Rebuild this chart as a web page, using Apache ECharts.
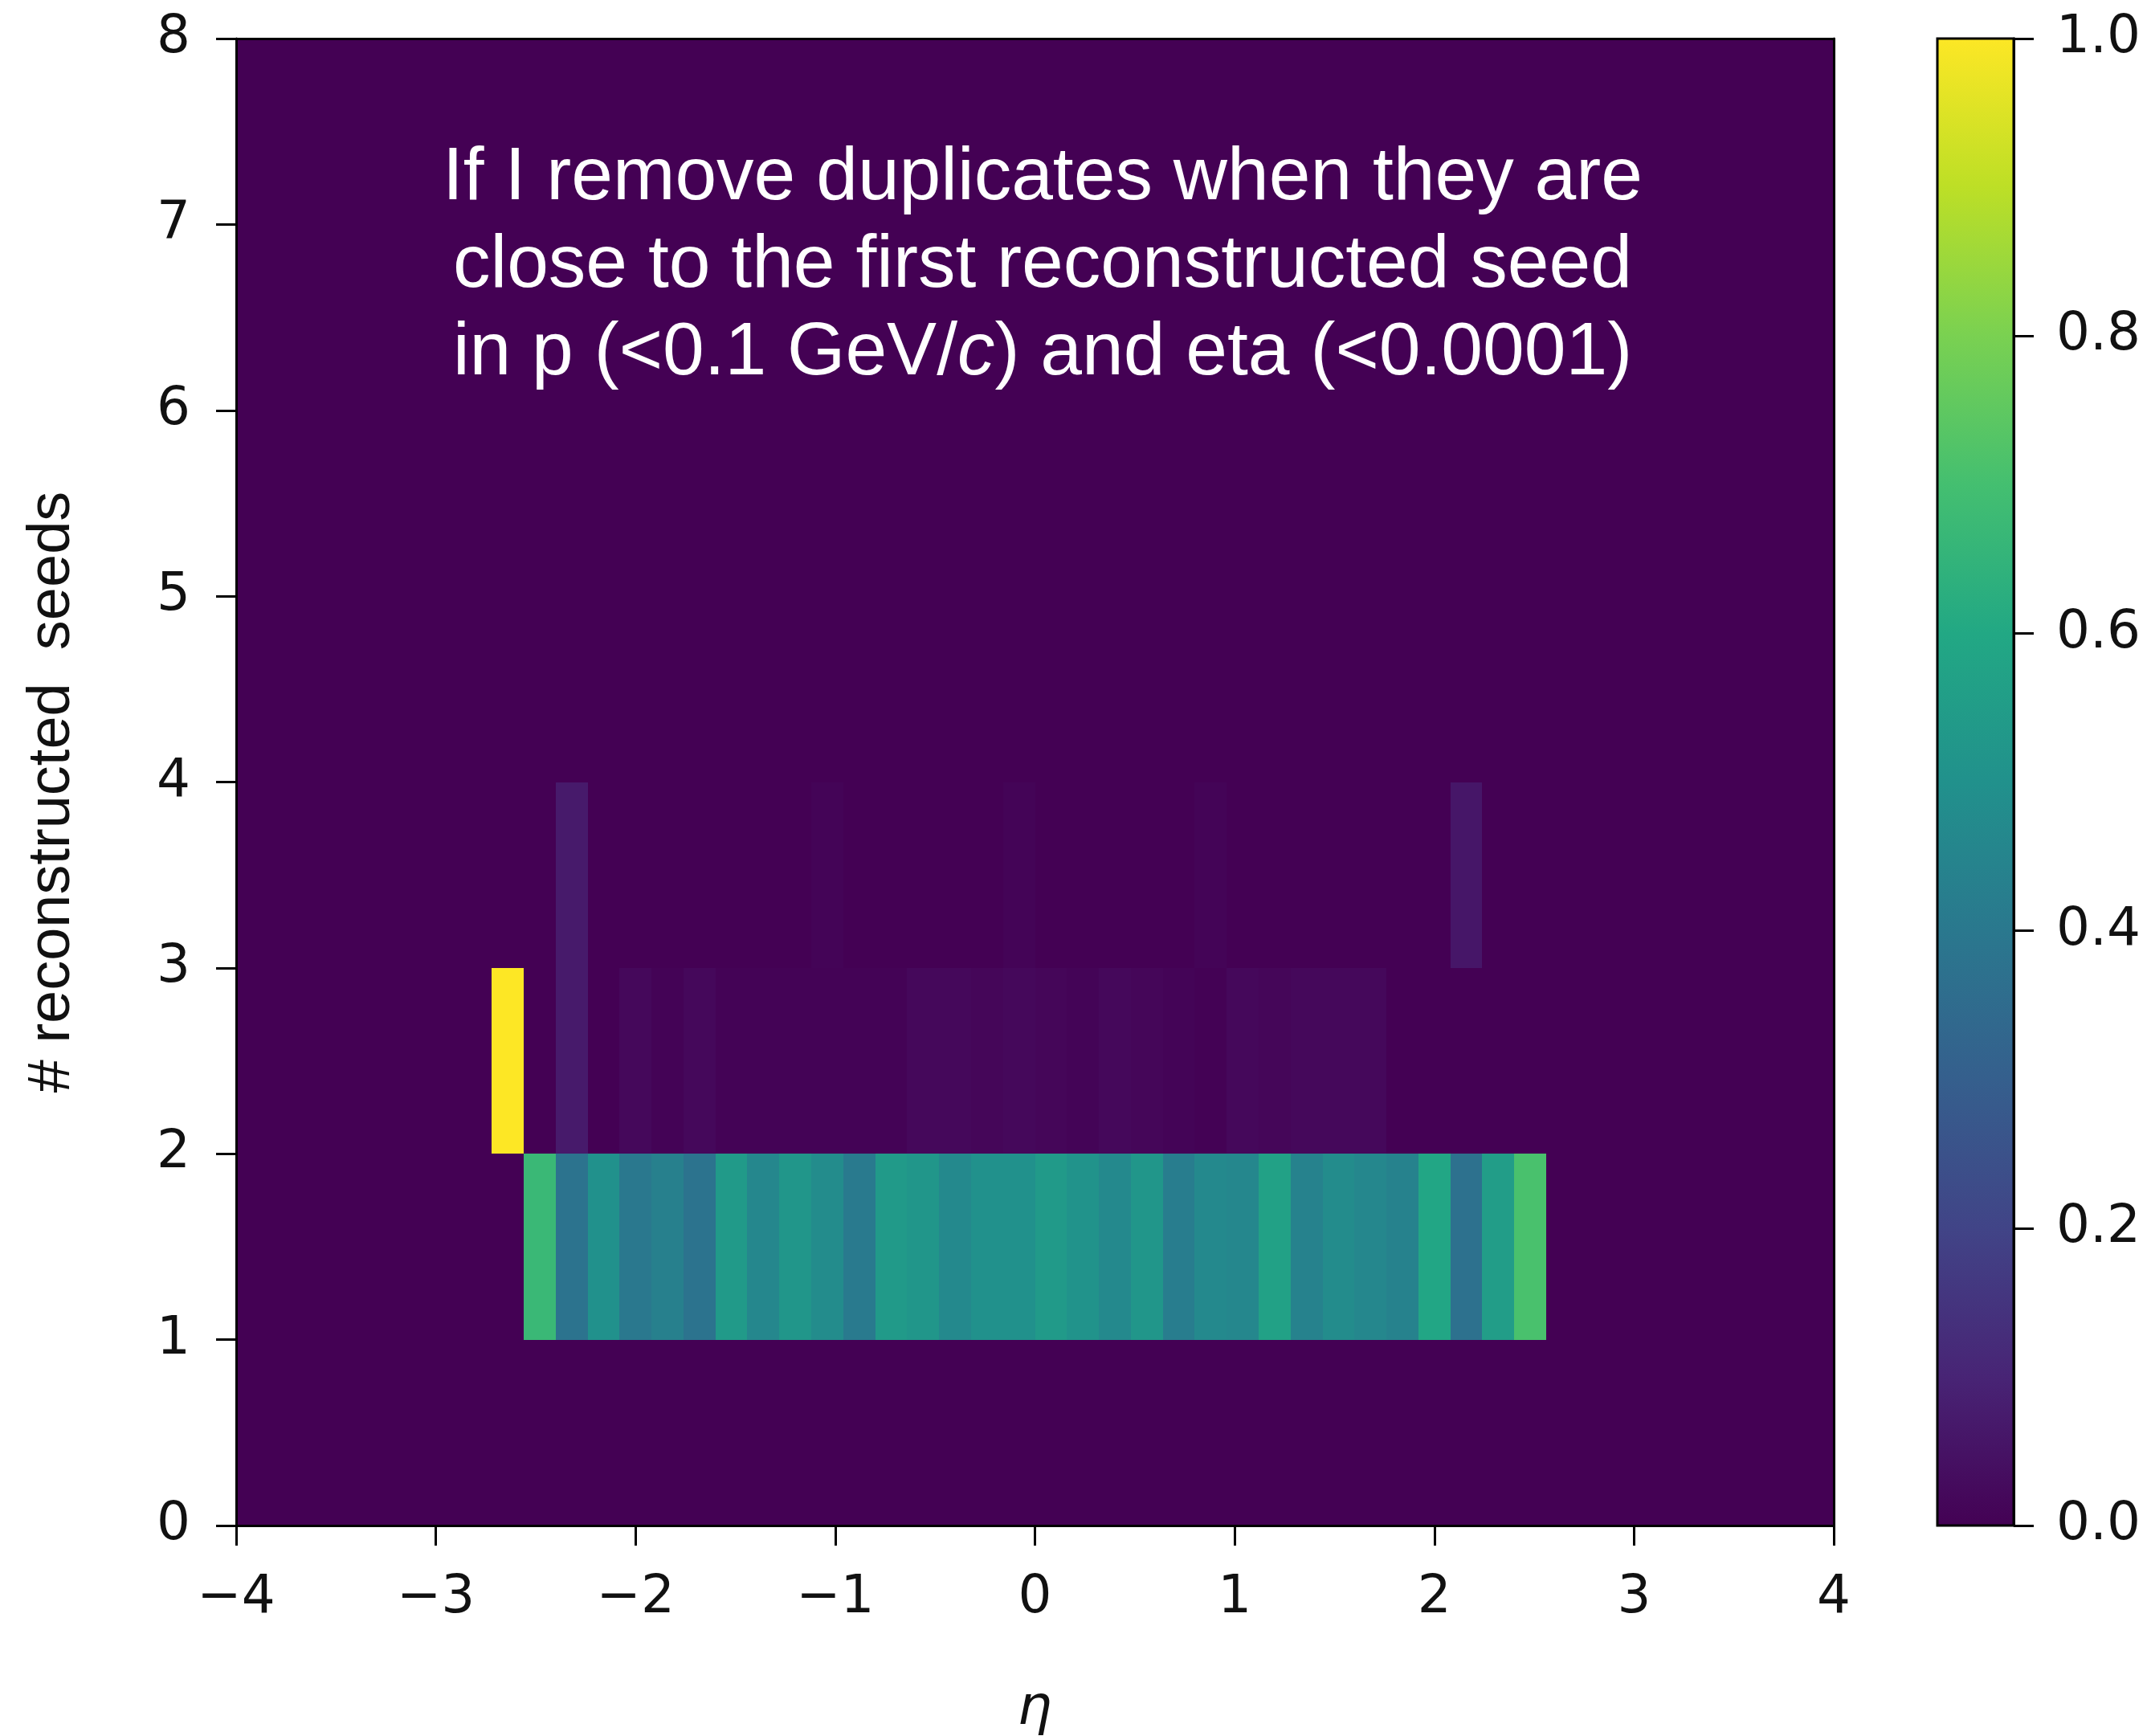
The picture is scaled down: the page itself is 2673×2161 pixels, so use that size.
<!DOCTYPE html>
<html>
<head>
<meta charset="utf-8">
<script src="https://cdn.jsdelivr.net/npm/echarts@6/dist/echarts.min.js"></script>
<style>
  html, body { margin: 0; padding: 0; background: #fff; }
  #chart { width: 2673px; height: 2161px; }
</style>
</head>
<body>
<div id="chart"></div>
<script>
// Binning of the 2D histogram: eta on x, number of reconstructed seeds on y
const etaMin = -4;
const etaMax = 4;
const etaBinCount = 50;
const seedsMin = 0;
const seedsMax = 8;

// Axis tick values
const etaTicks = [-4, -3, -2, -1, 0, 1, 2, 3, 4];
const seedTicks = [0, 1, 2, 3, 4, 5, 6, 7, 8];
const colorbarTicks = [0.0, 0.2, 0.4, 0.6, 0.8, 1.0];

// Normalised bin contents, one array per seed-count row (50 eta bins each)
const zeroRow = [
  0, 0, 0, 0, 0, 0, 0, 0, 0, 0,
  0, 0, 0, 0, 0, 0, 0, 0, 0, 0,
  0, 0, 0, 0, 0, 0, 0, 0, 0, 0,
  0, 0, 0, 0, 0, 0, 0, 0, 0, 0,
  0, 0, 0, 0, 0, 0, 0, 0, 0, 0
];
const seedsRow0 = zeroRow;
const seedsRow1 = [
  0, 0, 0, 0, 0, 0, 0, 0, 0, 0.67,
  0.38, 0.50, 0.40, 0.43, 0.38, 0.54, 0.46, 0.52, 0.48, 0.41,
  0.54, 0.52, 0.47, 0.50, 0.50, 0.54, 0.51, 0.47, 0.52, 0.42,
  0.47, 0.46, 0.57, 0.44, 0.48, 0.46, 0.44, 0.59, 0.37, 0.55,
  0.71, 0, 0, 0, 0, 0, 0, 0, 0, 0
];
const seedsRow2 = [
  0, 0, 0, 0, 0, 0, 0, 0, 1.0, 0,
  0.07, 0, 0.02, 0.006, 0.02, 0.006, 0.006, 0.006, 0.006, 0.006,
  0.006, 0.02, 0.02, 0.015, 0.02, 0.015, 0.008, 0.02, 0.015, 0.008,
  0.004, 0.02, 0.015, 0.02, 0.02, 0.02, 0, 0, 0, 0,
  0, 0, 0, 0, 0, 0, 0, 0, 0, 0
];
const seedsRow3 = [
  0, 0, 0, 0, 0, 0, 0, 0, 0, 0,
  0.07, 0, 0, 0, 0, 0, 0, 0, 0.008, 0,
  0, 0, 0, 0, 0.008, 0, 0, 0, 0, 0,
  0.008, 0, 0, 0, 0, 0, 0, 0, 0.06, 0,
  0, 0, 0, 0, 0, 0, 0, 0, 0, 0
];
const seedsRow4 = zeroRow;
const seedsRow5 = zeroRow;
const seedsRow6 = zeroRow;
const seedsRow7 = zeroRow;

// Viridis colour map
const viridis = ['#440154', '#482475', '#414487', '#355f8d', '#2a788e',
                 '#21918c', '#22a884', '#44bf70', '#7ad151', '#bddf26', '#fde725'];

const annotationLines = [
  '{n|If I remove duplicates when they are}',
  '{n|close to the first reconstructed seed}',
  '{n|in p (<0.1 GeV/}{i|c}{n|) and eta (<0.0001)}'
];

// Build histogram cells [xLow, xHigh, yLow, yHigh, value]
const seedRows = [seedsRow0, seedsRow1, seedsRow2, seedsRow3,
                  seedsRow4, seedsRow5, seedsRow6, seedsRow7];
const etaBinWidth = (etaMax - etaMin) / etaBinCount;
const cells = [];
seedRows.forEach(function (row, j) {
  row.forEach(function (v, k) {
    cells.push([etaMin + k * etaBinWidth, etaMin + (k + 1) * etaBinWidth,
                seedsMin + j, seedsMin + j + 1, v]);
  });
});

function renderCell(params, api) {
  const a = api.coord([api.value(0), api.value(3)]);
  const b = api.coord([api.value(1), api.value(2)]);
  const x0 = Math.round(a[0]), x1 = Math.round(b[0]);
  const y0 = Math.round(a[1]), y1 = Math.round(b[1]);
  return {
    type: 'rect',
    shape: { x: x0, y: y0, width: x1 - x0, height: y1 - y0 },
    style: { fill: api.visual('color') }
  };
}

function renderColorbar(params, api) {
  const a = api.coord([0, 1]);
  const b = api.coord([1, 0]);
  const stops = viridis.map(function (c, i) {
    return { offset: i / (viridis.length - 1), color: c };
  });
  return {
    type: 'rect',
    shape: { x: a[0], y: a[1], width: b[0] - a[0], height: b[1] - a[1] },
    style: {
      fill: new echarts.graphic.LinearGradient(0, 1, 0, 0, stops),
      stroke: '#000',
      lineWidth: 3
    }
  };
}

const tickFont = { fontFamily: 'DejaVu Sans', fontSize: 66, color: '#111' };
const spine = { show: true, onZero: false, lineStyle: { color: '#000', width: 3 } };
const tick = { show: true, inside: false, length: 25, lineStyle: { color: '#000', width: 3 } };
const minusFmt = function (v) { return v < 0 ? '\u2212' + Math.abs(v) : String(v); };

const chart = echarts.init(document.getElementById('chart'), null, { renderer: 'canvas' });

chart.setOption({
  animation: false,
  backgroundColor: '#fff',
  grid: [
    { left: 294, top: 48, width: 1989, height: 1851 },
    { left: 2412, top: 48, width: 95, height: 1851 }
  ],
  xAxis: [
    {
      gridIndex: 0, type: 'value', position: 'bottom', z: 10,
      min: etaTicks[0], max: etaTicks[etaTicks.length - 1], interval: 1,
      axisLine: spine, axisTick: tick, splitLine: { show: false },
      axisLabel: Object.assign({ margin: 58, formatter: minusFmt }, tickFont)
    },
    {
      gridIndex: 0, type: 'value', position: 'top', z: 10,
      min: etaMin, max: etaMax,
      axisLine: spine, axisTick: { show: false }, axisLabel: { show: false },
      splitLine: { show: false }
    },
    {
      gridIndex: 1, type: 'value', min: 0, max: 1, show: false
    }
  ],
  yAxis: [
    {
      gridIndex: 0, type: 'value', position: 'left', z: 10,
      min: seedTicks[0], max: seedTicks[seedTicks.length - 1], interval: 1,
      axisLine: spine, axisTick: tick, splitLine: { show: false },
      axisLabel: Object.assign({ margin: 57 }, tickFont)
    },
    {
      gridIndex: 0, type: 'value', position: 'right', z: 10,
      min: seedsMin, max: seedsMax,
      axisLine: spine, axisTick: { show: false }, axisLabel: { show: false },
      splitLine: { show: false }
    },
    {
      gridIndex: 1, type: 'value', position: 'right', z: 10,
      min: colorbarTicks[0], max: colorbarTicks[colorbarTicks.length - 1], interval: 0.2,
      axisLine: spine, axisTick: tick, splitLine: { show: false },
      axisLabel: Object.assign({
        margin: 53,
        formatter: function (v) { return v.toFixed(1); }
      }, tickFont)
    }
  ],
  visualMap: {
    type: 'continuous', show: false, seriesIndex: 0, dimension: 4,
    min: 0, max: 1, inRange: { color: viridis }
  },
  series: [
    {
      type: 'custom', xAxisIndex: 0, yAxisIndex: 0,
      renderItem: renderCell,
      encode: { x: [0, 1], y: [2, 3] },
      data: cells
    },
    {
      type: 'custom', xAxisIndex: 2, yAxisIndex: 2,
      renderItem: renderColorbar,
      data: [[0, 1, 0, 1]]
    }
  ],
  graphic: [
    ...annotationLines.map(function (line, i) {
      return {
        type: 'text', x: 1298, y: 222 + i * 109, z: 100,
        style: {
          text: line, align: 'center', verticalAlign: 'middle',
          rich: {
            n: { fontSize: 93, fontFamily: 'Liberation Sans', fill: '#fff', color: '#fff' },
            i: { fontSize: 93, fontFamily: 'Liberation Sans', fontStyle: 'italic', fill: '#fff', color: '#fff' }
          }
        }
      };
    }),
    {
      type: 'text', x: 66, y: 986, rotation: Math.PI / 2,
      style: {
        text: '# reconstructed  seeds', fill: '#111',
        fontSize: 74, fontFamily: 'Liberation Sans',
        align: 'center', verticalAlign: 'middle'
      }
    },
    {
      type: 'text', x: 1288, y: 2128,
      style: {
        text: 'η', fill: '#111',
        fontSize: 68, fontFamily: 'DejaVu Sans', fontStyle: 'italic',
        align: 'center', verticalAlign: 'middle'
      }
    }
  ]
});
</script>
</body>
</html>
